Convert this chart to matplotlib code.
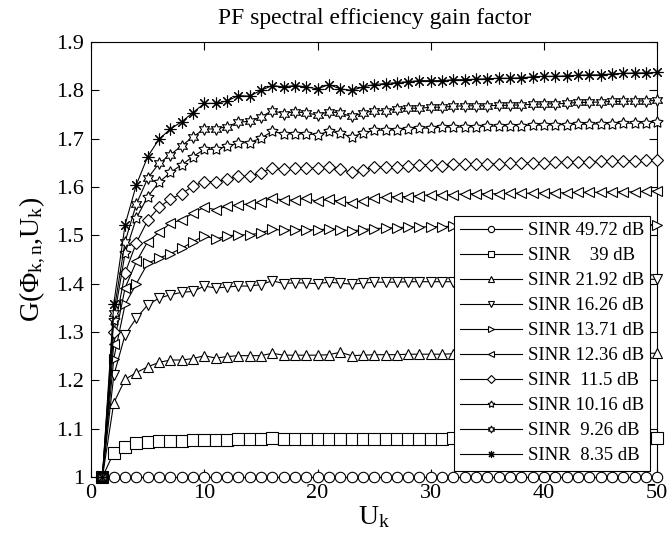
import numpy as np
import matplotlib
matplotlib.use('Agg')
import matplotlib.pyplot as plt
from matplotlib.ticker import FuncFormatter

plt.rcParams['font.family'] = ['Liberation Serif', 'DejaVu Serif']
plt.rcParams['mathtext.fontset'] = 'custom'
plt.rcParams['mathtext.rm'] = 'Liberation Serif'
plt.rcParams['mathtext.it'] = 'Liberation Serif'

users = np.arange(1, 51)

sinr_labels = ['SINR 49.72 dB', 'SINR    39 dB', 'SINR 21.92 dB', 'SINR 16.26 dB',
               'SINR 13.71 dB', 'SINR 12.36 dB', 'SINR  11.5 dB', 'SINR 10.16 dB',
               'SINR  9.26 dB', 'SINR  8.35 dB']

g_4972 = [1.0] * 50

g_39 = [1.000, 1.050, 1.063, 1.070, 1.072, 1.075, 1.075, 1.075, 1.077, 1.077,
        1.077, 1.077, 1.078, 1.078, 1.078, 1.080, 1.078, 1.078, 1.078, 1.078,
        1.078, 1.078, 1.078, 1.078, 1.078, 1.078, 1.078, 1.078, 1.079, 1.079,
        1.079, 1.080, 1.079, 1.079, 1.079, 1.079, 1.079, 1.080, 1.080, 1.080,
        1.080, 1.080, 1.080, 1.080, 1.080, 1.080, 1.080, 1.080, 1.080, 1.080]

g_2192 = [1.000, 1.153, 1.202, 1.216, 1.228, 1.237, 1.242, 1.242, 1.245, 1.251,
          1.246, 1.249, 1.251, 1.251, 1.251, 1.256, 1.252, 1.252, 1.252, 1.252,
          1.253, 1.258, 1.251, 1.252, 1.253, 1.253, 1.253, 1.254, 1.254, 1.254,
          1.254, 1.255, 1.255, 1.255, 1.255, 1.255, 1.255, 1.255, 1.255, 1.256,
          1.255, 1.256, 1.256, 1.256, 1.256, 1.256, 1.256, 1.256, 1.256, 1.256]

g_1626 = [1.000, 1.210, 1.294, 1.329, 1.356, 1.370, 1.377, 1.382, 1.384, 1.395,
          1.391, 1.393, 1.395, 1.395, 1.398, 1.406, 1.400, 1.402, 1.401, 1.400,
          1.403, 1.401, 1.399, 1.401, 1.403, 1.403, 1.403, 1.404, 1.404, 1.404,
          1.404, 1.404, 1.405, 1.405, 1.405, 1.405, 1.406, 1.406, 1.406, 1.406,
          1.407, 1.407, 1.407, 1.407, 1.408, 1.408, 1.408, 1.408, 1.409, 1.409]

g_1371 = [1.000, 1.245, 1.357, 1.400, 1.442, 1.453, 1.462, 1.473, 1.487, 1.499,
          1.492, 1.499, 1.501, 1.501, 1.505, 1.513, 1.510, 1.512, 1.512, 1.511,
          1.514, 1.512, 1.509, 1.512, 1.514, 1.515, 1.516, 1.517, 1.517, 1.518,
          1.518, 1.519, 1.519, 1.519, 1.520, 1.520, 1.520, 1.520, 1.521, 1.521,
          1.521, 1.521, 1.521, 1.522, 1.522, 1.522, 1.522, 1.522, 1.522, 1.522]

g_1236 = [1.000, 1.275, 1.391, 1.446, 1.487, 1.506, 1.525, 1.532, 1.546, 1.558,
          1.553, 1.560, 1.563, 1.565, 1.568, 1.577, 1.573, 1.573, 1.577, 1.570,
          1.575, 1.570, 1.567, 1.572, 1.577, 1.579, 1.580, 1.580, 1.582, 1.584,
          1.584, 1.584, 1.586, 1.586, 1.586, 1.586, 1.587, 1.587, 1.587, 1.588,
          1.588, 1.588, 1.589, 1.589, 1.589, 1.590, 1.590, 1.590, 1.591, 1.592]

g_115 = [1.000, 1.300, 1.422, 1.485, 1.531, 1.558, 1.575, 1.586, 1.602, 1.611,
         1.611, 1.616, 1.622, 1.622, 1.629, 1.640, 1.637, 1.639, 1.639, 1.639,
         1.642, 1.637, 1.630, 1.636, 1.641, 1.642, 1.642, 1.644, 1.646, 1.646,
         1.644, 1.647, 1.647, 1.647, 1.648, 1.648, 1.649, 1.649, 1.650, 1.650,
         1.651, 1.651, 1.652, 1.652, 1.653, 1.653, 1.654, 1.654, 1.655, 1.656]

g_1016 = [1.000, 1.325, 1.463, 1.536, 1.580, 1.610, 1.630, 1.646, 1.663, 1.678,
          1.678, 1.684, 1.691, 1.692, 1.701, 1.715, 1.710, 1.710, 1.710, 1.708,
          1.715, 1.712, 1.703, 1.712, 1.717, 1.718, 1.718, 1.720, 1.722, 1.722,
          1.724, 1.724, 1.724, 1.725, 1.726, 1.726, 1.727, 1.727, 1.728, 1.728,
          1.729, 1.729, 1.730, 1.730, 1.731, 1.731, 1.732, 1.732, 1.733, 1.734]

g_926 = [1.000, 1.340, 1.487, 1.565, 1.618, 1.649, 1.667, 1.685, 1.704, 1.720,
         1.720, 1.725, 1.734, 1.736, 1.745, 1.758, 1.752, 1.756, 1.753, 1.749,
         1.756, 1.753, 1.746, 1.753, 1.758, 1.758, 1.761, 1.763, 1.763, 1.765,
         1.765, 1.767, 1.768, 1.768, 1.768, 1.769, 1.769, 1.770, 1.771, 1.772,
         1.772, 1.773, 1.775, 1.775, 1.776, 1.777, 1.777, 1.778, 1.778, 1.779]

g_835 = [1.000, 1.358, 1.522, 1.605, 1.663, 1.699, 1.720, 1.735, 1.754, 1.773,
         1.773, 1.778, 1.789, 1.788, 1.800, 1.810, 1.807, 1.810, 1.807, 1.803,
         1.812, 1.803, 1.800, 1.807, 1.812, 1.814, 1.816, 1.818, 1.820, 1.820,
         1.820, 1.822, 1.822, 1.823, 1.824, 1.825, 1.825, 1.826, 1.828, 1.829,
         1.829, 1.830, 1.831, 1.832, 1.832, 1.834, 1.835, 1.836, 1.836, 1.837]

series = [g_4972, g_39, g_2192, g_1626, g_1371, g_1236, g_115, g_1016, g_926, g_835]
markers = ['o', 's', '^', 'v', '>', '<', 'D', (5, 1, 0), (6, 1, 0), (8, 2, 0)]
msizes = [7.5, 8, 7.5, 7.5, 7.5, 7.5, 6.5, 8.5, 8.5, 8.5]

fig = plt.figure(figsize=(6.7, 5.42), dpi=100)
ax = fig.add_axes([0.136, 0.12, 0.845, 0.8025])

for vals, mk, ms, lab in zip(series, markers, msizes, sinr_labels):
    ax.plot(users, vals, color='black', linewidth=0.8, marker=mk, markersize=ms,
            markerfacecolor='white', markeredgecolor='black', markeredgewidth=0.8,
            label=lab, clip_on=False, zorder=3)

ax.set_xlim(0, 50)
ax.set_ylim(1, 1.9)
ax.set_xticks([0, 10, 20, 30, 40, 50])
ax.set_yticks(np.arange(1.0, 1.91, 0.1))
ax.yaxis.set_major_formatter(FuncFormatter(lambda v, p: ('%.1f' % v).rstrip('0').rstrip('.')))
ax.tick_params(direction='in', top=True, right=True, length=6, width=0.8, labelsize=16, pad=5)
for sp in ax.spines.values():
    sp.set_linewidth(0.8)

ax.set_title('PF spectral efficiency gain factor', fontsize=17, pad=13)
ax.set_xlabel('U$_{\\mathrm{k}}$', fontsize=20, labelpad=1)
ax.set_ylabel('G(Φ$_{\\mathrm{k,n}}$,U$_{\\mathrm{k}}$)', fontsize=20, labelpad=6)

leg = ax.legend(loc='lower right', bbox_to_anchor=(0.988, 0.014), borderaxespad=0,
                fontsize=13.5, markerscale=0.6, handlelength=3.3, labelspacing=0.42,
                handletextpad=0.3, borderpad=0.35, fancybox=False, framealpha=1,
                edgecolor='black')
leg.get_frame().set_linewidth(0.8)
leg.set_zorder(5)

fig.savefig('out.png', dpi=100)
